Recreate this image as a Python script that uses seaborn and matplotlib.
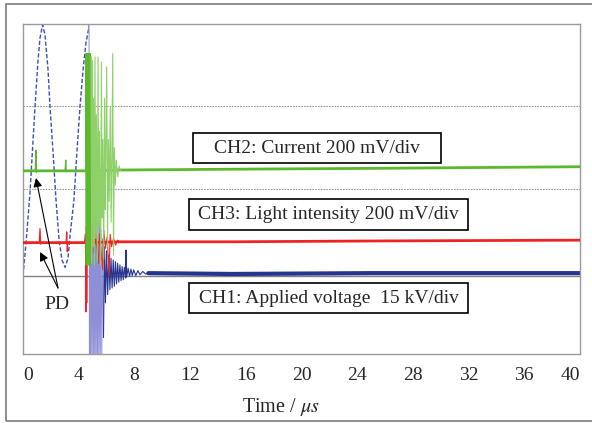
import matplotlib
matplotlib.use("Agg")
import matplotlib.pyplot as plt
import seaborn as sns
from matplotlib.patches import Rectangle

# ---------------- data (time in µs, signal in screen divisions from bottom) -------------
time_ticks = [0, 4, 8, 12, 16, 20, 24, 28, 32, 36, 40]
tick_labels = ["0", "4", "8", "12", "16", "20", "24", "28", "32", "36", "40"]

# CH1 applied voltage
ch1_sine_t = [0.00, 0.22, 0.50, 0.86, 1.08, 1.22, 1.41, 1.58, 1.80, 1.94, 2.15, 2.37,
              2.59, 2.80, 3.02, 3.23, 3.38, 3.66, 3.88, 4.09, 4.31, 4.52, 4.70]
ch1_sine_v = [0.95, 1.35, 1.95, 2.99, 3.56, 3.83, 3.99, 3.87, 3.44, 2.99, 2.47, 1.87,
              1.38, 1.14, 1.05, 1.16, 1.44, 1.87, 2.47, 2.99, 3.44, 3.77, 3.93]
ch1_burst_t = [4.70, 4.74, 4.77, 4.81, 4.85, 4.90, 4.95, 5.00, 5.05, 5.10, 5.15, 5.20,
               5.25, 5.30, 5.35, 5.40, 5.45, 5.50, 5.55, 5.60, 5.66, 5.72, 5.78]
ch1_burst_v = [3.93, 4.30, -0.30, 2.30, -0.30, 2.00, -0.30, 2.10, -0.30, 1.90, -0.30, 1.90,
               -0.30, 1.80, -0.20, 1.70, -0.20, 1.60, -0.10, 1.50, 0.00, 1.40, 0.20]
ch1_ring_t = [5.78, 5.85, 5.92, 6.00, 6.08, 6.16, 6.24, 6.32, 6.40, 6.48, 6.56, 6.64,
              6.72, 6.80, 6.88, 6.96, 7.04, 7.12, 7.20, 7.28, 7.36, 7.40, 7.44, 7.55,
              7.65, 7.75, 7.85, 7.95, 8.10, 8.25, 8.40, 8.60, 8.80, 9.00]
ch1_ring_v = [0.20, 1.30, 0.62, 1.25, 0.72, 1.20, 0.78, 1.16, 0.80, 1.14, 0.82, 1.12,
              0.85, 1.10, 0.87, 1.08, 0.89, 1.06, 0.90, 1.05, 0.92, 1.26, 0.93, 1.04,
              0.94, 1.03, 0.95, 1.02, 0.95, 1.01, 0.96, 1.00, 0.97, 0.98]
ch1_base_t = [9.0, 15.0, 25.0, 40.0]
ch1_base_v = [0.98, 0.97, 0.98, 0.98]

# CH2 current
ch2_base_t = [0.0, 4.5, 7.0, 15.0, 25.0, 40.0]
ch2_base_v = [2.22, 2.22, 2.23, 2.24, 2.25, 2.27]
ch2_pd1_t = [0.88, 0.93, 0.97]
ch2_pd1_v = [2.22, 2.47, 2.20]
ch2_pd2_t = [3.02, 3.07, 3.11]
ch2_pd2_v = [2.22, 2.35, 2.21]
ch2_block_t = [4.50, 4.52, 4.55, 4.58, 4.61, 4.64, 4.67, 4.70, 4.73, 4.76, 4.79, 4.82, 4.85, 4.88]
ch2_block_v = [2.22, 3.64, 1.08, 3.64, 1.08, 3.64, 1.08, 3.64, 1.08, 3.64, 1.08, 3.64, 1.08, 3.60]
ch2_burst_t = [4.88, 4.93, 4.98, 5.03, 5.07, 5.12, 5.17, 5.22, 5.27, 5.34, 5.39, 5.44, 5.49,
               5.58, 5.63, 5.68, 5.73, 5.80, 5.85, 5.90, 5.95, 6.01, 6.07, 6.13, 6.19,
               6.27, 6.33, 6.39, 6.44, 6.50, 6.56, 6.63, 6.70, 6.80, 6.90, 7.00]
ch2_burst_v = [3.60, 1.10, 3.56, 1.30, 3.10, 1.08, 3.60, 1.40, 2.90, 1.12, 3.60, 1.55, 2.70,
               1.08, 3.54, 1.65, 2.60, 1.15, 3.10, 1.75, 2.50, 3.48, 1.30, 2.60, 1.85,
               3.00, 1.60, 2.40, 3.64, 1.20, 2.50, 2.05, 2.35, 2.15, 2.28, 2.22]

# CH3 light intensity
ch3_base_t = [0.0, 4.4, 7.0, 15.0, 25.0, 40.0]
ch3_base_v = [1.35, 1.35, 1.36, 1.36, 1.37, 1.38]
ch3_pd1_t = [1.17, 1.22, 1.27]
ch3_pd1_v = [1.35, 1.52, 1.33]
ch3_pd2_t = [3.10, 3.14, 3.18, 3.22]
ch3_pd2_v = [1.35, 1.48, 1.24, 1.36]
ch3_burst_t = [4.42, 4.48, 4.52, 4.55, 4.58, 4.62, 4.70, 4.80, 4.90, 5.00, 5.10, 5.20, 5.30,
               5.42, 5.50, 5.60, 5.72, 5.80, 5.92, 6.05, 6.18, 6.26, 6.36, 6.50, 6.65, 6.80, 7.00]
ch3_burst_v = [1.35, 1.45, 0.51, 1.55, 0.62, 1.42, 1.22, 1.52, 1.28, 1.58, 1.22, 1.46, 1.30,
               1.10, 1.46, 1.25, 1.02, 1.50, 1.28, 1.42, 0.95, 1.45, 1.30, 1.40, 1.32, 1.38, 1.35]

grid_levels = [2.0, 3.0]
zero_level = 0.945

channel_labels = ["CH2: Current 200 mV/div",
                  "CH3: Light intensity 200 mV/div",
                  "CH1: Applied voltage  15 kV/div"]

# ---------------- style ----------------
sns.set_style("white")
plt.rcParams["font.family"] = ["Liberation Serif", "DejaVu Serif"]
plt.rcParams["mathtext.fontset"] = "stix"

W, H = 592, 423
fig = plt.figure(figsize=(W / 100, H / 100), dpi=100)
ax = fig.add_axes([23 / W, 1 - 354 / H, 557 / W, 330 / H])

BLUE = "#26338f"
BLUE_SINE = "#3e4db3"
LAVENDER = "#8f8fd8"
RED = "#ee2424"
GREEN = "#5cb82c"
GREEN_LIGHT = "#8fd06a"


def trace(t, v, **kw):
    sns.lineplot(x=t, y=v, ax=ax, sort=False, estimator=None, legend=False, **kw)


for g in grid_levels:
    ax.axhline(g, color="#9a9a9a", lw=0.8, ls=(0, (1.5, 1)), zorder=1)
ax.axhline(zero_level, color="#808080", lw=1.0, zorder=1)

# CH1
trace(ch1_sine_t, ch1_sine_v, color=BLUE_SINE, lw=1.0, linestyle=(0, (3, 1.5)), zorder=2)
trace(ch1_burst_t, ch1_burst_v, color=LAVENDER, lw=0.7, zorder=2)
trace(ch1_ring_t, ch1_ring_v, color=BLUE, lw=0.8, zorder=2)
trace(ch1_base_t, ch1_base_v, color=BLUE, lw=3.0, zorder=2)

# CH3
trace(ch3_base_t, ch3_base_v, color=RED, lw=2.0, zorder=3)
for tt, vv in [(ch3_pd1_t, ch3_pd1_v), (ch3_pd2_t, ch3_pd2_v)]:
    trace(tt, vv, color=RED, lw=0.9, zorder=3)
trace(ch3_burst_t, ch3_burst_v, color=RED, lw=0.8, zorder=3)

# CH2
trace(ch2_base_t, ch2_base_v, color=GREEN, lw=2.0, zorder=4)
for tt, vv in [(ch2_pd1_t, ch2_pd1_v), (ch2_pd2_t, ch2_pd2_v)]:
    trace(tt, vv, color=GREEN, lw=0.9, zorder=4)
trace(ch2_block_t, ch2_block_v, color=GREEN, lw=1.0, zorder=4)
trace(ch2_burst_t, ch2_burst_v, color=GREEN_LIGHT, lw=0.8, zorder=4)

ax.set_xlim(0, 40)
ax.set_ylim(0, 4)
ax.set_yticks([])
ax.set_xticks(time_ticks)
ax.set_xticklabels(tick_labels, fontsize=14)
lbls = ax.get_xticklabels()
lbls[0].set_ha("left")
lbls[-1].set_ha("right")
ax.tick_params(axis="x", direction="in", length=6, width=0.8, color="#808080", pad=9)
ax.set_xlabel("")
ax.set_ylabel("")
for s in ax.spines.values():
    s.set_color("#9a9a9a")
    s.set_linewidth(1.0)

fig.text(281 / W, 1 - 407 / H, "Time / $\\mu s$", ha="center", va="center", fontsize=14.5)

# channel label boxes (pixel layout)
boxes = [(193, 133, 441, 163), (189, 199, 468, 230), (189, 283, 468, 313)]
for (x0, y0, x1, y1), txt in zip(boxes, channel_labels):
    fig.add_artist(Rectangle((x0 / W, 1 - y1 / H), (x1 - x0) / W, (y1 - y0) / H,
                             transform=fig.transFigure, facecolor="white",
                             edgecolor="black", lw=1.2, zorder=10))
    fig.text((x0 + x1) / 2 / W, 1 - (y0 + y1) / 2 / H, txt, ha="center", va="center",
             fontsize=14, zorder=11)

# PD annotation
fig.text(57 / W, 1 - 304 / H, "PD", ha="center", va="center", fontsize=14)
for tip in [(36, 178), (40, 252)]:
    ax.annotate("", xy=(tip[0], H - tip[1]), xycoords="figure pixels",
                xytext=(58, H - 288), textcoords="figure pixels",
                arrowprops=dict(arrowstyle="-|>", color="black", lw=0.8,
                                mutation_scale=13, shrinkA=0, shrinkB=0))

# outer frame
fig.add_artist(Rectangle((6 / W, 1 - 421 / H), 600 / W, 417 / H, transform=fig.transFigure,
                         fill=False, edgecolor="#7a7a7a", lw=1.2, zorder=20))

fig.savefig("out.png", dpi=100)
